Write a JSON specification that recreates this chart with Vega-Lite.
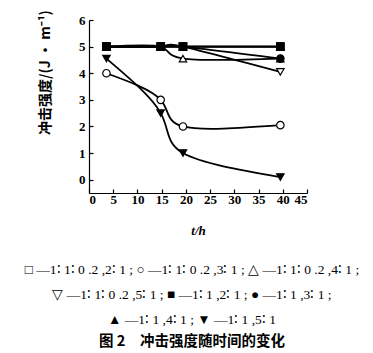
{
  "$schema": "https://vega.github.io/schema/vega-lite/v6.json",
  "width": 218,
  "height": 173,
  "autosize": {"type": "none"},
  "padding": {"left": 89, "top": 20, "right": 66, "bottom": 160},
  "background": "white",
  "config": {
    "view": {"stroke": null},
    "axis": {"grid": false, "domainColor": "black", "tickColor": "black", "labelColor": "black", "titleColor": "black", "domainWidth": 1.2, "tickWidth": 1.2}
  },
  "title": {
    "text": [
      "□ —1∶ 1∶ 0 .2 ,2∶ 1 ; ○ —1∶ 1∶ 0 .2 ,3∶ 1 ; △ —1∶ 1∶ 0 .2 ,4∶ 1 ;",
      "▽ —1∶ 1∶ 0 .2 ,5∶ 1 ; ■ —1∶ 1 ,2∶ 1 ; ● —1∶ 1 ,3∶ 1 ;",
      "▲ —1∶ 1 ,4∶ 1 ; ▼ —1∶ 1 ,5∶ 1"
    ],
    "subtitle": "图 2　冲击强度随时间的变化",
    "orient": "bottom",
    "anchor": "middle",
    "frame": "group",
    "offset": 26,
    "dx": -6,
    "font": "Liberation Serif",
    "fontSize": 13.5,
    "fontWeight": "normal",
    "lineHeight": 25,
    "color": "black",
    "subtitleFont": "Noto Sans CJK SC",
    "subtitleFontSize": 14.5,
    "subtitleFontWeight": "bold",
    "subtitleColor": "black",
    "subtitlePadding": 8
  },
  "data": {
    "values": [
      {"series": "1:1:0.2,2:1", "t": 3.6, "v": 5, "fillc": "open"},
      {"series": "1:1:0.2,2:1", "t": 14.8, "v": 5, "fillc": "open"},
      {"series": "1:1:0.2,2:1", "t": 19.4, "v": 5, "fillc": "open"},
      {"series": "1:1:0.2,2:1", "t": 39.5, "v": 5, "fillc": "open"},
      {"series": "1:1:0.2,3:1", "t": 3.6, "v": 4, "fillc": "open"},
      {"series": "1:1:0.2,3:1", "t": 14.8, "v": 3, "fillc": "open"},
      {"series": "1:1:0.2,3:1", "t": 19.4, "v": 2, "fillc": "open"},
      {"series": "1:1:0.2,3:1", "t": 39.5, "v": 2.05, "fillc": "open"},
      {"series": "1:1:0.2,4:1", "t": 3.6, "v": 5, "fillc": "open"},
      {"series": "1:1:0.2,4:1", "t": 14.8, "v": 5, "fillc": "open"},
      {"series": "1:1:0.2,4:1", "t": 19.4, "v": 4.55, "fillc": "open"},
      {"series": "1:1:0.2,4:1", "t": 39.5, "v": 4.55, "fillc": "open"},
      {"series": "1:1:0.2,5:1", "t": 3.6, "v": 5, "fillc": "open"},
      {"series": "1:1:0.2,5:1", "t": 14.8, "v": 5, "fillc": "open"},
      {"series": "1:1:0.2,5:1", "t": 19.4, "v": 5, "fillc": "open"},
      {"series": "1:1:0.2,5:1", "t": 39.5, "v": 4.05, "fillc": "open"},
      {"series": "1:1,2:1", "t": 3.6, "v": 5, "fillc": "solid"},
      {"series": "1:1,2:1", "t": 14.8, "v": 5, "fillc": "solid"},
      {"series": "1:1,2:1", "t": 19.4, "v": 5, "fillc": "solid"},
      {"series": "1:1,2:1", "t": 39.5, "v": 5, "fillc": "solid"},
      {"series": "1:1,3:1", "t": 3.6, "v": 5, "fillc": "solid"},
      {"series": "1:1,3:1", "t": 14.8, "v": 5, "fillc": "solid"},
      {"series": "1:1,3:1", "t": 19.4, "v": 5, "fillc": "solid"},
      {"series": "1:1,3:1", "t": 39.5, "v": 4.55, "fillc": "solid"},
      {"series": "1:1,4:1", "t": 3.6, "v": 5, "fillc": "solid"},
      {"series": "1:1,4:1", "t": 14.8, "v": 5, "fillc": "solid"},
      {"series": "1:1,4:1", "t": 19.4, "v": 5, "fillc": "solid"},
      {"series": "1:1,4:1", "t": 39.5, "v": 5, "fillc": "solid"},
      {"series": "1:1,5:1", "t": 3.6, "v": 4.55, "fillc": "solid"},
      {"series": "1:1,5:1", "t": 14.8, "v": 2.5, "fillc": "solid"},
      {"series": "1:1,5:1", "t": 19.4, "v": 1.0, "fillc": "solid"},
      {"series": "1:1,5:1", "t": 39.5, "v": 0.1, "fillc": "solid"}
    ]
  },
  "encoding": {
    "x": {
      "field": "t", "type": "quantitative",
      "scale": {"domain": [0, 45], "nice": false, "zero": false},
      "axis": {
        "values": [0, 5, 10, 15, 20, 25, 30, 35, 40, 45],
        "tickSize": -4, "labelPadding": 4,
        "labelFont": "Liberation Serif", "labelFontSize": 13, "labelFontWeight": "bold",
        "title": "t/h", "titleFont": "Liberation Serif", "titleFontSize": 13, "titleFontWeight": "bold", "titleFontStyle": "italic",
        "titleX": 109, "titleY": 37, "titleBaseline": "middle"
      }
    },
    "y": {
      "field": "v", "type": "quantitative",
      "scale": {"domain": [-0.5, 6], "nice": false, "zero": false},
      "axis": {
        "values": [0, 1, 2, 3, 4, 5, 6],
        "tickSize": -4, "labelPadding": 8,
        "labelFont": "Liberation Serif", "labelFontSize": 13, "labelFontWeight": "bold",
        "title": "冲击强度/(J · m⁻¹)", "titleFont": "Noto Sans CJK SC", "titleFontSize": 14, "titleFontWeight": "bold",
        "titleX": -44, "titleY": 52, "titleBaseline": "middle", "titleAlign": "center", "titleAngle": -90
      }
    }
  },
  "layer": [
    {
      "mark": {"type": "line", "interpolate": "natural", "color": "black", "strokeWidth": 1.8},
      "encoding": {"detail": {"field": "series", "type": "nominal"}}
    },
    {
      "mark": {"type": "point", "filled": true, "stroke": "black", "strokeWidth": 1.2, "opacity": 1, "size": 55},
      "encoding": {
        "shape": {
          "field": "series", "type": "nominal",
          "scale": {
            "domain": ["1:1:0.2,2:1", "1:1:0.2,3:1", "1:1:0.2,4:1", "1:1:0.2,5:1", "1:1,2:1", "1:1,3:1", "1:1,4:1", "1:1,5:1"],
            "range": ["square", "circle", "triangle-up", "triangle-down", "square", "circle", "triangle-up", "triangle-down"]
          },
          "legend": null
        },
        "fill": {
          "field": "fillc", "type": "nominal",
          "scale": {"domain": ["open", "solid"], "range": ["white", "black"]},
          "legend": null
        }
      }
    }
  ]
}
